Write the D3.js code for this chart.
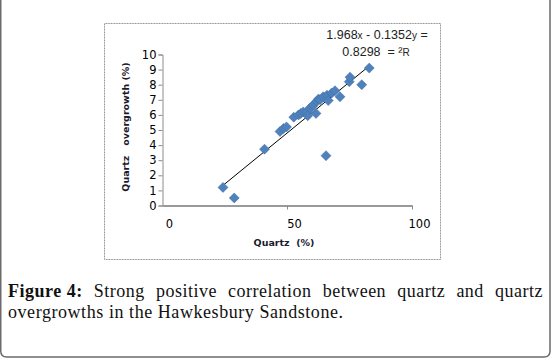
<!DOCTYPE html>
<html><head><meta charset="utf-8">
<script src="https://cdn.jsdelivr.net/npm/d3@7"></script>
<style>body{margin:0;background:#fff}svg{display:block}text{white-space:pre}</style>
</head><body>
<svg id="chart" width="552" height="363"></svg>
<script>
// values
var quartz     = [24.4, 28.9, 41.0, 47.2, 48.6, 49.8, 52.7, 54.6, 55.5, 56.5, 57.9, 58.3, 59.2, 60.0, 60.5, 61.6, 61.9, 62.6, 63.2, 64.5, 65.6, 66.0, 66.5, 67.9, 69.2, 71.2, 74.9, 75.2, 79.9, 82.9];
var overgrowth = [1.2, 0.5, 3.73, 4.9, 5.1, 5.2, 5.85, 6.0, 6.1, 6.2, 6.2, 5.95, 6.45, 6.55, 6.65, 6.1, 6.9, 7.05, 7.0, 7.2, 3.3, 7.3, 6.95, 7.45, 7.6, 7.2, 8.2, 8.5, 8.0, 9.1];
var xTicks = [0, 50, 100];
var yTicks = [0, 1, 2, 3, 4, 5, 6, 7, 8, 9, 10];
var slope = 0.1352, intercept = -1.968;

var svg = d3.select("#chart");

// outer frame of the figure
svg.append("path")
  .attr("d", "M0.75,-10 L0.75,351 Q0.75,357 6.75,357 L544,357 Q550,357 550,351 L550,-10")
  .style("fill", "none").style("stroke", "#6b6b6b").style("stroke-width", 1.5);

// chart area frame
svg.append("rect").attr("x", 104.5).attr("y", 23.5).attr("width", 336).attr("height", 236)
  .style("fill", "none").style("stroke", "#8a8a8a").style("stroke-width", 1)
  .style("stroke-dasharray", "1,0.6");

var xScale = d3.scaleLinear().domain([0, 100]).range([162, 412]);
var yScale = d3.scaleLinear().domain([0, 10]).range([205.5, 54.5]);

// y axis
var yAxis = d3.axisLeft(yScale).tickValues(yTicks).tickSize(4).tickPadding(2);
var gy = svg.append("g").attr("transform", "translate(162.5,0)").call(yAxis);
gy.select(".domain").style("stroke", "#8c8c8c");
gy.selectAll(".tick line").style("stroke", "#8c8c8c");
gy.selectAll("text").style("font-family", "DejaVu Sans").style("font-size", "11.5px").style("fill", "#000");

// x axis
var xAxis = d3.axisBottom(xScale).tickValues(xTicks).tickSize(4).tickPadding(10).tickSizeOuter(0);
var gx = svg.append("g").attr("transform", "translate(0,205.5)").call(xAxis);
gx.select(".domain").style("stroke", "#9a9a9a").style("stroke-width", 2);
gx.selectAll(".tick line").style("stroke", "#8c8c8c");
gx.selectAll(".tick").filter(function(d){ return d === 0; }).select("line").remove();
gx.selectAll("text").attr("dx", 7).style("font-family", "DejaVu Sans").style("font-size", "11.5px").style("fill", "#000");

// axis titles
svg.append("text").attr("x", 284).attr("y", 246).attr("text-anchor", "middle")
  .style("font-family", "DejaVu Sans").style("font-weight", "bold").style("font-size", "9.5px").style("fill", "#1a1a2e")
  .text("Quartz  (%)");
svg.append("text").attr("transform", "translate(128.5,127)rotate(-90)").attr("text-anchor", "middle")
  .style("font-family", "DejaVu Sans").style("font-weight", "bold")
  .style("font-size", "9.5px").style("fill", "#1a1a2e")
  .text("Quartz   overgrowth (%)");

// trend line
var xMin = d3.min(quartz), xMax = d3.max(quartz);
svg.append("line")
  .attr("x1", xScale(xMin)).attr("y1", yScale(slope * xMin + intercept))
  .attr("x2", xScale(xMax)).attr("y2", yScale(slope * xMax + intercept))
  .style("stroke", "#000").style("stroke-width", 1);

// points
var pts = quartz.map(function(q, i){ return [q, overgrowth[i]]; });
svg.selectAll(".dot").data(pts).enter().append("path")
  .attr("class", "dot")
  .attr("d", d3.symbol().type(d3.symbolSquare).size(50))
  .attr("transform", function(d){ return "translate(" + xScale(d[0]) + "," + yScale(d[1]) + ")rotate(45)"; })
  .style("fill", "#4f81bd").style("stroke", "#3f6fa8").style("stroke-width", 0.5);

// equation
var eq = svg.append("text").attr("x", 377).attr("y", 39).attr("text-anchor", "middle")
  .style("font-family", "Liberation Sans").style("font-size", "12.5px").style("fill", "#222");
eq.append("tspan").text("1.968");
eq.append("tspan").style("font-size", "10px").text("x");
eq.append("tspan").text(" - 0.1352");
eq.append("tspan").style("font-size", "10px").text("y");
eq.append("tspan").text(" =");
var eq2 = svg.append("text").attr("x", 376).attr("y", 56).attr("text-anchor", "middle")
  .style("font-family", "Liberation Sans").style("font-size", "12.5px").style("fill", "#222");
eq2.append("tspan").text("0.8298  = \u00b2");
eq2.append("tspan").style("font-size", "10px").text("R");

// caption, first line justified
var capFont = "Liberation Serif", capSize = "18px";
var words = [["Figure 4:", true], ["Strong", false], ["positive", false], ["correlation", false], ["between", false], ["quartz", false], ["and", false], ["quartz", false]];
var left = 8, right = 543, base1 = 297;
var nodes = words.map(function(w){
  return svg.append("text").attr("y", base1)
    .style("font-family", capFont).style("font-size", capSize).style("fill", "#111")
    .style("font-weight", w[1] ? "bold" : "normal").style("letter-spacing", "0.5px").text(w[0]);
});
var widths = nodes.map(function(n){ return n.node().getComputedTextLength(); });
var gap = (right - left - d3.sum(widths)) / (nodes.length - 1);
var cx = left;
nodes.forEach(function(n, i){ n.attr("x", cx); cx += widths[i] + gap; });
svg.append("text").attr("x", left).attr("y", 318)
  .attr("textLength", 335).attr("lengthAdjust", "spacing")
  .style("font-family", capFont).style("font-size", capSize).style("fill", "#111")
  .text("overgrowths in the Hawkesbury Sandstone.");
</script>
</body></html>
